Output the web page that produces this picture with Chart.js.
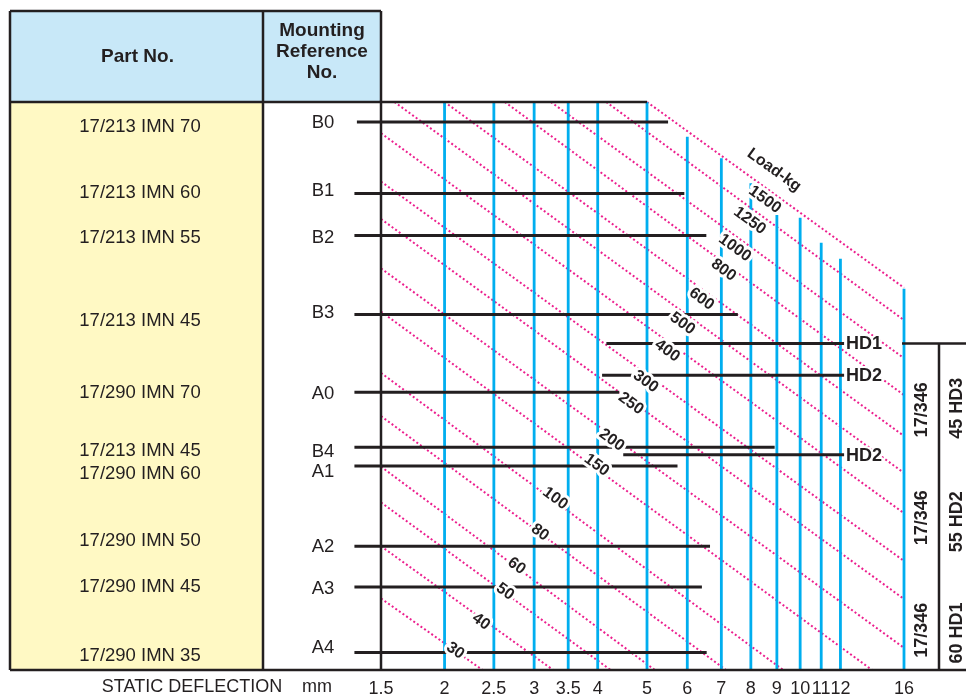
<!DOCTYPE html>
<html><head><meta charset="utf-8">
<script src="https://cdn.jsdelivr.net/npm/chart.js@4.4.1/dist/chart.umd.min.js"></script>
<style>html,body{margin:0;padding:0;background:#fff;}canvas{display:block;}</style>
</head><body>
<canvas id="c" width="966" height="698"></canvas>
<script>
// ---------- DATA ----------
const deflectionTicks = [1.5, 2, 2.5, 3, 3.5, 4, 5, 6, 7, 8, 9, 10, 11, 12, 16];
const gridValues = [2, 2.5, 3, 3.5, 4, 5, 6, 7, 8, 9, 10, 11, 12, 16];
const gridTop    = [100, 100, 100, 100, 100, 100, 93.9, 90.1, 85.7, 80.1, 79.6, 75.2, 72.4, 67.1];

const partNos   = ['17/213 IMN 70','17/213 IMN 60','17/213 IMN 55','17/213 IMN 45','17/290 IMN 70',
                   '17/213 IMN 45','17/290 IMN 60','17/290 IMN 50','17/290 IMN 45','17/290 IMN 35'];
const mountRefs = ['B0','B1','B2','B3','A0','B4','A1','A2','A3','A4'];
const mountLevel = [96.5, 83.9, 76.5, 62.6, 48.9, 39.2, 35.9, 21.8, 14.6, 3.1];
const mountStart = [1.345, 1.33, 1.33, 1.33, 1.33, 1.33, 1.33, 1.33, 1.33, 1.33];
const mountEnd   = [5.50, 5.92, 6.54, 7.54, 4.41, 8.91, 5.74, 6.65, 6.41, 6.55];
const partLabelLevel = [95.6, 84.0, 76.1, 61.4, 48.8, 38.6, 34.5, 22.7, 14.6, 2.5];
const refLabelLevel  = [96.3, 84.3, 76.1, 62.9, 48.6, 38.4, 34.9, 21.7, 14.3, 3.9];

const hdNames = ['HD1', 'HD2', 'HD2'];
const hdLevel = [57.5, 51.9, 37.9];
const hdStart = [4.16, 4.08, 4.49];
const hdEnd   = [12.2, 12.2, 12.2];

const loads      = [1500, 1250, 1000, 800, 600, 500, 400, 300, 250, 200, 150, 100, 80, 60, 50, 40, 30];
const loadStartX = [5.0, 4.157, 3.236, 2.627, 2.0, 1.594, 1.5, 1.5, 1.5, 1.5, 1.5, 1.5, 1.5, 1.5, 1.5, 1.5, 1.5];
const loadStartY = [100, 100, 100, 100, 100, 100, 94.5, 86.0, 79.4, 70.7, 63.1, 52.3, 44.7, 35.8, 29.5, 21.8, 12.6];
const loadEndX   = [16, 16, 16, 16, 16, 16, 16, 16, 16, 16, 13.85, 9.26, 7.15, 5.18, 4.24, 3.27, 2.375];
const loadEndY   = [67.3, 61.6, 54.9, 48.4, 41.2, 34.7, 27.6, 19.2, 12.5, 3.9, 0, 0, 0, 0, 0, 0, 0];
const loadLabelX = [8.52, 7.96, 7.44, 7.07, 6.40, 5.87, 5.48, 4.97, 4.65, 4.26, 3.98, 3.30, 3.08, 2.77, 2.63, 2.36, 2.10];
const loadLabelY = [82.8, 79.1, 74.3, 70.4, 65.3, 61.0, 56.2, 50.8, 46.9, 40.5, 36.1, 30.2, 24.2, 18.3, 13.8, 8.5, 3.4];
const loadTitle = 'Load-kg';
const loadTitleX = 8.89, loadTitleY = 88.0;

const bracketParts = ['17/346', '17/346', '17/346'];
const bracketTypes = ['45 HD3', '55 HD2', '60 HD1'];
const bracketPartLevel = [45.8, 26.8, 7.0];
const bracketTypeLevel = [46.1, 26.1, 6.5];

const axisTitle = 'STATIC DEFLECTION', axisUnit = 'mm';
const topEdgeEnd = 5.0;

// ---------- STYLE ----------
const FONT = '"Liberation Sans", Arial, Helvetica, sans-serif';
const INK = '#231f20', BLUE = '#00aeef', PINK = '#ec1f8e';

// ---------- build datasets ----------
const blueData = [];
gridValues.forEach((v, i) => { blueData.push({x: v, y: 0}, {x: v, y: gridTop[i]}, {x: v, y: null}); });
const rowData = [];
mountLevel.forEach((l, i) => { rowData.push({x: mountStart[i], y: l}, {x: mountEnd[i], y: l}, {x: mountEnd[i], y: null}); });
hdLevel.forEach((l, i) => { rowData.push({x: hdStart[i], y: l}, {x: hdEnd[i], y: l}, {x: hdEnd[i], y: null}); });
const frameData = [{x: deflectionTicks[0], y: 0}, {x: deflectionTicks[0], y: 100}, {x: topEdgeEnd, y: 100}];
const loadData = [];
loads.forEach((L, i) => { loadData.push({x: loadStartX[i], y: loadStartY[i]}, {x: loadEndX[i], y: loadEndY[i]}, {x: loadEndX[i], y: null}); });

const tablePlugin = {
  id: 'table',
  beforeDatasetsDraw(chart) {
    const {ctx, chartArea: ca, scales: {y}} = chart;
    const L = 10, T = 11, D = 263, R = ca.left, H = ca.top, B = ca.bottom;
    ctx.save();
    ctx.fillStyle = '#c8e8f8'; ctx.fillRect(L, T, R - L, H - T);
    ctx.fillStyle = '#fff9c4'; ctx.fillRect(L, H, D - L, B - H);
    ctx.strokeStyle = INK; ctx.lineWidth = 2.5;
    ctx.beginPath();
    ctx.moveTo(L, T); ctx.lineTo(R, T);
    ctx.moveTo(L, H); ctx.lineTo(R, H);
    ctx.moveTo(L, T); ctx.lineTo(L, B);
    ctx.moveTo(D, T); ctx.lineTo(D, B);
    ctx.moveTo(R, T); ctx.lineTo(R, H);
    ctx.stroke();
    ctx.fillStyle = INK; ctx.textAlign = 'center'; ctx.textBaseline = 'middle';
    ctx.font = 'bold 19px ' + FONT;
    ctx.fillText('Part No.', (L + D) / 2 + 1, 57);
    ['Mounting', 'Reference', 'No.'].forEach((t, i) => ctx.fillText(t, (D + R) / 2, 31 + i * 21));
    ctx.font = '18.5px ' + FONT;
    partNos.forEach((t, i) => ctx.fillText(t, 140, y.getPixelForValue(partLabelLevel[i])));
    mountRefs.forEach((t, i) => ctx.fillText(t, 323, y.getPixelForValue(refLabelLevel[i])));
    ctx.restore();
  },
  afterDatasetsDraw(chart) {
    const {ctx, chartArea: ca, scales: {x, y}} = chart;
    ctx.save();
    ctx.strokeStyle = INK; ctx.lineWidth = 2.5;
    ctx.beginPath(); ctx.moveTo(10, ca.bottom); ctx.lineTo(chart.width, ca.bottom); ctx.stroke();
    const hy = y.getPixelForValue(hdLevel[0]);
    const vx = ca.right + 35;
    ctx.beginPath(); ctx.moveTo(ca.right - 2, hy); ctx.lineTo(chart.width, hy);
    ctx.moveTo(vx, hy); ctx.lineTo(vx, ca.bottom); ctx.stroke();
    ctx.fillStyle = INK; ctx.textAlign = 'center'; ctx.textBaseline = 'middle';
    ctx.font = 'bold 18px ' + FONT;
    bracketParts.forEach((t, i) => {
      ctx.save(); ctx.translate(ca.right + 18, y.getPixelForValue(bracketPartLevel[i])); ctx.rotate(-Math.PI / 2);
      ctx.fillText(t, 0, 0); ctx.restore();
    });
    bracketTypes.forEach((t, i) => {
      ctx.save(); ctx.translate(ca.right + 53, y.getPixelForValue(bracketTypeLevel[i])); ctx.rotate(-Math.PI / 2);
      ctx.fillText(t, 0, 0); ctx.restore();
    });
    ctx.textAlign = 'left';
    hdNames.forEach((t, i) => {
      const px = x.getPixelForValue(hdEnd[i]) + 2, py = y.getPixelForValue(hdLevel[i]);
      ctx.strokeStyle = '#fff'; ctx.lineWidth = 4; ctx.lineJoin = 'round';
      ctx.strokeText(t, px, py + 1); ctx.fillText(t, px, py + 1);
    });
    ctx.textAlign = 'center';
    ctx.font = 'bold 16px ' + FONT;
    const angleOf = i => {
      const x1 = x.getPixelForValue(loadStartX[i]), y1 = y.getPixelForValue(loadStartY[i]);
      const x2 = x.getPixelForValue(loadEndX[i]), y2 = y.getPixelForValue(loadEndY[i]);
      return Math.atan2(y2 - y1, x2 - x1);
    };
    loads.forEach((L, i) => {
      ctx.save();
      ctx.translate(x.getPixelForValue(loadLabelX[i]), y.getPixelForValue(loadLabelY[i]));
      ctx.rotate(angleOf(i));
      ctx.strokeStyle = '#fff'; ctx.lineWidth = 6; ctx.lineJoin = 'round';
      ctx.strokeText(String(L), 0, 0);
      ctx.fillStyle = INK; ctx.fillText(String(L), 0, 0);
      ctx.restore();
    });
    ctx.save();
    ctx.translate(x.getPixelForValue(loadTitleX), y.getPixelForValue(loadTitleY));
    ctx.rotate(angleOf(0));
    ctx.fillStyle = INK; ctx.fillText(loadTitle, 0, 0);
    ctx.restore();
    ctx.font = '18px ' + FONT; ctx.fillStyle = INK;
    ctx.fillText(axisTitle, 192, 687);
    ctx.fillText(axisUnit, 317, 687);
    ctx.restore();
  }
};

new Chart(document.getElementById('c').getContext('2d'), {
  type: 'line',
  data: {
    datasets: [
      {data: frameData, borderColor: INK, borderWidth: 2.5, order: 0, clip: false},
      {data: rowData, borderColor: INK, borderWidth: 3, order: 1, clip: false, spanGaps: false},
      {data: blueData, borderColor: BLUE, borderWidth: 2.8, order: 2, clip: false, spanGaps: false, borderCapStyle: 'butt'},
      {data: loadData, borderColor: PINK, borderWidth: 2, borderDash: [2, 2.4], order: 3, clip: false, spanGaps: false}
    ]
  },
  options: {
    responsive: false,
    animation: false,
    events: [],
    layout: {padding: {left: 381, right: 62, top: 102, bottom: 0}},
    elements: {point: {radius: 0}, line: {tension: 0, fill: false}},
    plugins: {legend: {display: false}, tooltip: {enabled: false}},
    scales: {
      x: {
        type: 'logarithmic', min: 1.5, max: 16,
        afterBuildTicks: s => { s.ticks = deflectionTicks.map(v => ({value: v})); },
        afterFit: s => { s.height = 28; },
        grid: {display: false, drawTicks: false},
        border: {display: false},
        ticks: {autoSkip: false, maxRotation: 0, minRotation: 0, padding: 8, color: INK,
                font: {family: FONT, size: 18}, callback: v => String(v)}
      },
      y: {type: 'linear', min: 0, max: 100, display: false}
    }
  },
  plugins: [tablePlugin]
});
</script>
</body></html>
